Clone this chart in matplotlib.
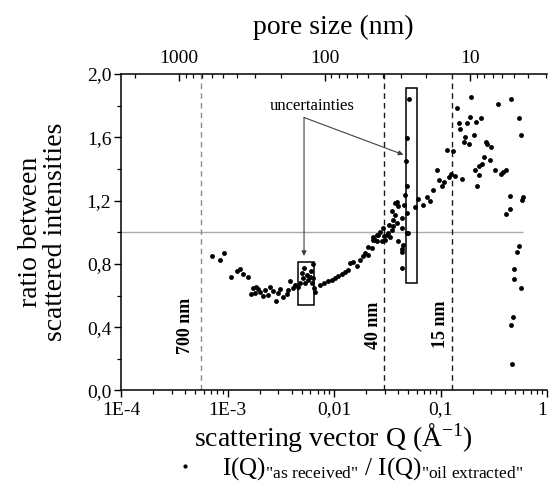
import matplotlib
matplotlib.use('Agg')
import matplotlib.pyplot as plt
from matplotlib.patches import Rectangle
from matplotlib.lines import Line2D
from matplotlib.ticker import LogLocator, NullFormatter, MultipleLocator

plt.rcParams['font.family'] = 'Liberation Serif'
plt.rcParams['mathtext.fontset'] = 'custom'
plt.rcParams['mathtext.rm'] = 'Liberation Serif'
plt.rcParams['mathtext.it'] = 'Liberation Serif:italic'

# scattering vector Q (1/A) and ratio I(Q)as received / I(Q)oil extracted
q = [7.2e-4, 8.5e-4, 9.33e-4, 1.08e-3, 1.22e-3, 1.31e-3, 1.41e-3, 1.55e-3, 1.65e-3, 1.73e-3,
     1.81e-3, 1.85e-3, 1.95e-3, 2.02e-3, 2.14e-3, 2.25e-3, 2.42e-3, 2.51e-3, 2.66e-3, 2.85e-3,
     3.0e-3, 3.11e-3, 3.34e-3, 3.60e-3, 3.72e-3, 3.86e-3, 4.15e-3, 4.30e-3, 4.62e-3, 4.80e-3,
     4.98e-3, 5.15e-3, 5.23e-3, 5.34e-3, 5.54e-3, 5.74e-3, 5.96e-3, 6.08e-3, 6.18e-3, 6.31e-3,
     6.39e-3, 6.49e-3, 6.64e-3, 7.39e-3, 8.05e-3, 8.84e-3, 9.51e-3, 1.02e-2, 1.10e-2, 1.18e-2,
     1.27e-2, 1.36e-2, 1.41e-2, 1.52e-2, 1.63e-2, 1.75e-2, 1.86e-2, 1.95e-2, 2.10e-2, 2.10e-2,
     2.26e-2, 2.34e-2, 2.34e-2, 2.43e-2, 2.52e-2, 2.52e-2, 2.61e-2, 2.70e-2, 2.81e-2, 2.90e-2,
     2.95e-2, 3.01e-2, 3.15e-2, 3.24e-2, 3.28e-2, 3.36e-2, 3.48e-2, 3.51e-2, 3.61e-2, 3.61e-2,
     3.74e-2, 3.74e-2, 3.88e-2, 3.93e-2, 3.99e-2, 4.02e-2, 4.32e-2, 4.32e-2, 4.32e-2, 4.38e-2,
     4.38e-2, 4.48e-2, 4.54e-2, 4.64e-2, 4.71e-2, 4.82e-2, 4.82e-2, 4.82e-2, 4.88e-2, 4.99e-2,
     5.06e-2, 5.77e-2, 6.19e-2, 6.81e-2, 7.41e-2, 7.96e-2, 8.55e-2, 9.21e-2, 9.75e-2, 0.1026,
     0.1086, 0.1143, 0.1202, 0.1256, 0.1318, 0.1368, 0.1439, 0.1493, 0.1535, 0.160,
     0.166, 0.171, 0.179, 0.184, 0.188, 0.193, 0.206, 0.211, 0.217, 0.222,
     0.228, 0.231, 0.238, 0.244, 0.256, 0.267, 0.275, 0.290, 0.300, 0.325,
     0.344, 0.372, 0.389, 0.409, 0.415, 0.450, 0.450, 0.459, 0.467, 0.462,
     0.483, 0.490, 0.490, 0.526, 0.550, 0.550, 0.566, 0.574, 0.582, 0.599]
ratio = [0.851, 0.822, 0.868, 0.716, 0.752, 0.767, 0.737, 0.716, 0.611, 0.647,
         0.615, 0.657, 0.641, 0.625, 0.594, 0.636, 0.603, 0.657, 0.630, 0.566,
         0.615, 0.641, 0.590, 0.611, 0.636, 0.689, 0.647, 0.668, 0.657, 0.678,
         0.742, 0.710, 0.773, 0.678, 0.731, 0.699, 0.720, 0.752, 0.678, 0.800,
         0.710, 0.647, 0.625, 0.668, 0.678, 0.689, 0.699, 0.710, 0.725, 0.737,
         0.746, 0.763, 0.805, 0.815, 0.788, 0.826, 0.847, 0.868, 0.858, 0.906,
         0.900, 0.953, 0.973, 0.950, 0.984, 0.942, 0.984, 1.003, 0.942, 1.027,
         0.978, 0.953, 0.984, 0.995, 1.047, 0.973, 1.132, 1.016, 1.079, 1.037,
         1.111, 1.185, 1.058, 1.189, 0.942, 1.163, 1.090, 1.027, 0.894, 0.872,
         0.773, 0.921, 1.174, 1.237, 1.448, 1.596, 1.122, 0.995, 1.290, 0.995,
         1.839, 1.157, 1.210, 1.170, 1.223, 1.199, 1.269, 1.396, 1.332, 1.290,
         1.318, 1.518, 1.347, 1.370, 1.511, 1.353, 1.786, 1.691, 1.653, 1.337,
         1.568, 1.603, 1.691, 1.558, 1.729, 1.856, 1.615, 1.394, 1.697, 1.290,
         1.421, 1.362, 1.723, 1.432, 1.473, 1.568, 1.560, 1.459, 1.539, 1.396,
         1.813, 1.370, 1.383, 1.391, 1.113, 1.227, 1.147, 1.845, 0.166, 0.415,
         0.467, 0.767, 0.704, 0.872, 1.725, 0.910, 1.615, 0.647, 1.204, 1.220]

q_ticks = [1e-4, 1e-3, 1e-2, 1e-1, 1]
q_labels = ['1E-4', '1E-3', '0,01', '0,1', '1']
r_ticks = [0.0, 0.4, 0.8, 1.2, 1.6, 2.0]
r_labels = ['0,0', '0,4', '0,8', '1,2', '1,6', '2,0']
pore_ticks = [1000, 100, 10]
pore_labels = ['1000', '100', '10']

# marked pore sizes
pore_q = [5.6e-4, 0.0292, 0.127]
pore_names = ['700 nm', '40 nm', '15 nm']
pore_colors = ['0.55', '0.1', '0.1']

# uncertainty boxes: q_min, q_max, r_min, r_max
boxes = [(4.56e-3, 6.53e-3, 0.541, 0.809), (0.0471, 0.0605, 0.682, 1.913)]

fig = plt.figure(figsize=(5.49, 5.03), dpi=100)
ax = fig.add_axes([0.2204, 0.2237, 0.7760, 0.6292])

ax.set_xscale('log')
ax.set_xlim(1e-4, 1)
ax.set_ylim(0, 2)

ax.hlines(1.0, 1e-4, 0.6, color='#aaaaaa', lw=1.0, zorder=1)
for pq, pc in zip(pore_q, pore_colors):
    ax.axvline(pq, color=pc, lw=1.0, ls=(0, (4, 3)), zorder=1)

ax.plot(q, ratio, 'o', color='k', ms=3.5, mew=0, zorder=3)

for b in boxes:
    ax.add_patch(Rectangle((b[0], b[2]), b[1] - b[0], b[3] - b[2],
                           fill=False, ec='k', lw=1.1, zorder=4))

lab_pos = [(3.99e-4, 0.41), (0.0237, 0.41), (0.101, 0.42)]
for (lx, ly), name in zip(lab_pos, pore_names):
    ax.text(lx, ly, name, rotation=90, ha='center', va='center',
            fontsize=13, fontweight='bold')

ax.text(6.2e-3, 1.795, 'uncertainties', ha='center', va='center', fontsize=12)
for tgt in [(5.23e-3, 0.85), (0.0448, 1.49)]:
    ax.annotate('', xy=tgt, xytext=(5.23e-3, 1.725),
                arrowprops=dict(arrowstyle='-|>', color='0.25', lw=0.8,
                                mutation_scale=7, shrinkA=0, shrinkB=0))

ax.set_xticks(q_ticks)
ax.set_xticklabels(q_labels)
ax.get_xticklabels()[-1].set_horizontalalignment('right')
ax.xaxis.set_minor_locator(LogLocator(base=10, subs=range(2, 10)))
ax.xaxis.set_minor_formatter(NullFormatter())
ax.set_yticks(r_ticks)
ax.set_yticklabels(r_labels)
ax.yaxis.set_minor_locator(MultipleLocator(0.2))
ax.tick_params(which='both', direction='out', labelsize=14, top=False, right=False)
ax.tick_params(axis='x', which='major', length=5, width=1, pad=3)
ax.tick_params(axis='x', which='minor', length=3, width=0.9)
ax.tick_params(axis='y', which='major', length=5, width=1, pad=2)
ax.tick_params(axis='y', which='minor', length=3, width=0.9)
ax.spines['right'].set_visible(False)
ax.spines['top'].set_visible(False)
for s in ['left', 'bottom']:
    ax.spines[s].set_linewidth(1.1)

ax2 = ax.twiny()
ax2.set_xscale('log')
ax2.set_xlim(2515, 2.96)
ax2.set_xticks(pore_ticks)
ax2.set_xticklabels(pore_labels)
ax2.xaxis.set_minor_locator(LogLocator(base=10, subs=range(2, 10)))
ax2.xaxis.set_minor_formatter(NullFormatter())
ax2.tick_params(which='both', direction='in', labelsize=14)
ax2.tick_params(which='major', length=5, width=1, pad=5)
ax2.tick_params(which='minor', length=3, width=0.9)
for s in ['left', 'right', 'bottom']:
    ax2.spines[s].set_visible(False)
ax2.spines['top'].set_linewidth(1.1)

fig.text(333 / 549, 1 - 27 / 503, 'pore size (nm)', ha='center', va='center', fontsize=20)
fig.text(333 / 549, 1 - 437 / 503, r'scattering vector Q (Å$^{-1}$)',
         ha='center', va='center', fontsize=20)
fig.text(43 / 549, 1 - 232 / 503, 'ratio between\nscattered intensities',
         rotation=90, ha='center', va='center', fontsize=20, linespacing=0.95)

handle = Line2D([], [], marker='o', ls='none', color='k', ms=3, mew=0)
fig.legend([handle], [r'I(Q)$_{\text{"as received"}}$ / I(Q)$_{\text{"oil extracted"}}$'],
           loc='center left', bbox_to_anchor=(175 / 549, 1 - 469 / 503),
           frameon=False, fontsize=18, handlelength=0.8, handletextpad=1.1,
           borderpad=0, borderaxespad=0)

fig.savefig('out.png', dpi=100)
